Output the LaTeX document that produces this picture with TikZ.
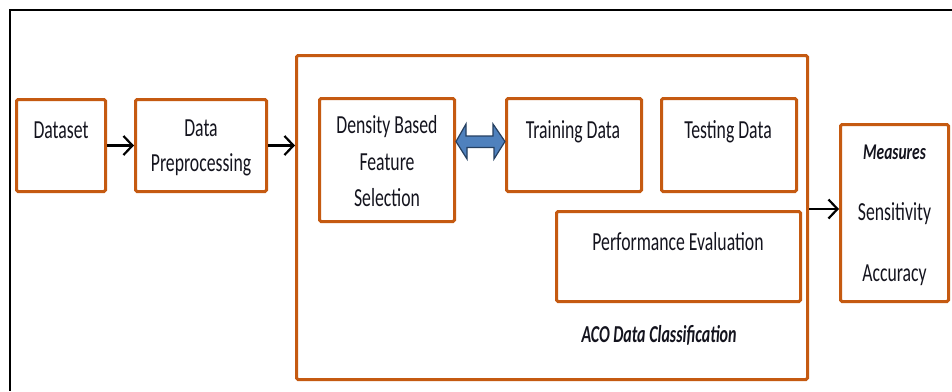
\documentclass[tikz,border=0pt]{standalone}
\usepackage{fontspec}
\setmainfont{Carlito}
\usetikzlibrary{arrows.meta}
\definecolor{boxorange}{RGB}{197,90,17}
\definecolor{arrowblue}{RGB}{79,129,189}
\definecolor{arrowedge}{RGB}{37,64,97}
\definecolor{txt}{RGB}{20,20,30}
\newcommand{\vtxt}[1]{\scalebox{1}[1.47]{#1}}
\begin{document}
\begin{tikzpicture}[x=1pt,y=-1pt,
  box/.style={draw=boxorange, line width=3pt, rounded corners=1.5pt, fill=white, inner sep=0pt},
  lbl/.style={anchor=base, inner sep=0pt, text=txt, font=\fontsize{17.7}{20}\selectfont},
  bilbl/.style={anchor=base, inner sep=0pt, text=txt, font=\fontsize{16}{20}\selectfont\bfseries\itshape},
  conn/.style={draw=black, line width=2.2pt, -{Straight Barb[length=9pt,width=19pt]}},
  dblarrow/.style={draw=arrowedge, line width=1.2pt, fill=arrowblue, line join=miter}]
\fill[white] (0,0) rectangle (952,391);
\useasboundingbox (0,0) rectangle (952,391);
% outer frame (cropped)
\draw[line width=2pt, black] (952,9.5) -- (9.5,9.5) -- (9.5,391);
% boxes
\node[box, minimum width=89pt, minimum height=92pt] (ds) at (61,145.5) {};
\node[box, minimum width=131pt, minimum height=92pt] (pre) at (201,145.5) {};
\node[box, minimum width=511pt, minimum height=324pt] (aco) at (552,217.5) {};
\node[box, minimum width=135pt, minimum height=123pt] (dens) at (387,160) {};
\node[box, minimum width=135pt, minimum height=93pt] (train) at (574,145) {};
\node[box, minimum width=135pt, minimum height=93pt] (test) at (729,145) {};
\node[box, minimum width=244pt, minimum height=90pt] (perf) at (678.5,256.5) {};
\node[box, minimum width=108pt, minimum height=177pt] (meas) at (894.5,213) {};
% labels
\node[lbl] (tds) at (61,138) {\vtxt{Dataset}};
\node[lbl] (tpre1) at (201,136) {\vtxt{Data}};
\node[lbl] (tpre2) at (201,171.5) {\vtxt{Preprocessing}};
\node[lbl] (tdens1) at (387,133.5) {\vtxt{Density Based}};
\node[lbl] (tdens2) at (387,170) {\vtxt{Feature}};
\node[lbl] (tdens3) at (387,206.5) {\vtxt{Selection}};
\node[lbl] (ttrain) at (573,138.3) {\vtxt{Training Data}};
\node[lbl] (ttest) at (728,138.3) {\vtxt{Testing Data}};
\node[lbl] (tperf) at (678,250) {\vtxt{Performance Evaluation}};
\node[bilbl] (taco) at (659,342.5) {\scalebox{1}[1.52]{ACO Data Classification}};
\node[bilbl, font=\fontsize{15.5}{20}\selectfont\bfseries\itshape] (tmeas) at (894.5,159.3) {\scalebox{1}[1.45]{Measures}};
\node[lbl] (tsens) at (894.5,220) {\vtxt{Sensitivity}};
\node[lbl] (tacc) at (894.5,281.5) {\vtxt{Accuracy}};
% connectors
\draw[conn] (ds.east) -- (pre.west);
\draw[conn] (pre.east) -- (pre.east -| aco.west);
\draw[conn] (aco.east |- 0,209) -- (meas.west |- 0,209);
% double-headed block arrow between feature selection and training data
\draw[dblarrow] (dens.east |- 0,141.5) -- ++(10,-17.5) -- ++(0,12) -- ++(27,0) -- ++(0,-12)
  -- (train.west |- 0,141.5) -- ++(-11,17.5) -- ++(0,-11.5) -- ++(-27,0) -- ++(0,11.5) -- cycle;
\end{tikzpicture}
\end{document}
